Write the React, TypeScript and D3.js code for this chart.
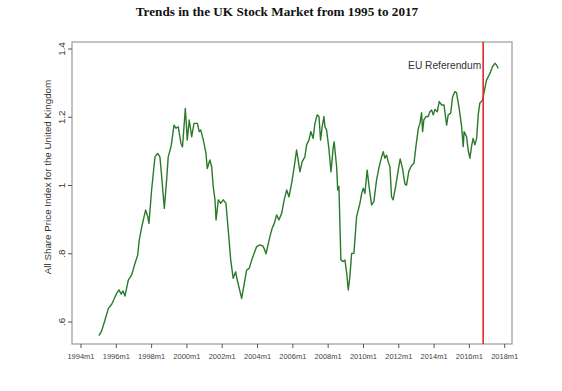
import React from "react";
import * as d3 from "d3";

const dates: number[] = [
  1995.02, 1995.17, 1995.36, 1995.55, 1995.74, 1995.93, 1996.02, 1996.15, 1996.27, 1996.38, 1996.49,
  1996.68, 1996.87, 1997.06, 1997.21, 1997.30, 1997.44, 1997.66, 1997.78, 1997.85, 1998.0,
  1998.19, 1998.34, 1998.47, 1998.57, 1998.72, 1998.85, 1998.94, 1999.1, 1999.27, 1999.38,
  1999.51, 1999.66, 1999.75, 1999.91, 2000.02, 2000.13, 2000.27, 2000.4, 2000.59, 2000.7,
  2000.78, 2000.93, 2001.08, 2001.15, 2001.3, 2001.4, 2001.49, 2001.59, 2001.65, 2001.78,
  2001.91, 2002.06, 2002.21, 2002.34, 2002.48, 2002.62, 2002.76, 2002.85, 2003.1, 2003.25,
  2003.38, 2003.53, 2003.67, 2003.95, 2004.14, 2004.3, 2004.4, 2004.48, 2004.7, 2004.83,
  2004.95, 2005.08, 2005.21, 2005.37, 2005.51, 2005.65, 2005.78, 2005.93, 2006.08, 2006.21,
  2006.3, 2006.4, 2006.53, 2006.68, 2006.78, 2006.91, 2007.02, 2007.15, 2007.25, 2007.38,
  2007.48, 2007.57, 2007.66, 2007.76, 2007.82, 2007.91, 2008.04, 2008.16, 2008.29, 2008.34,
  2008.48, 2008.54, 2008.61, 2008.72, 2008.85, 2008.95, 2009.05, 2009.14, 2009.23, 2009.33,
  2009.46, 2009.61, 2009.8, 2009.9, 2009.99, 2010.08, 2010.21, 2010.33, 2010.46, 2010.59,
  2010.74, 2010.89, 2011.03, 2011.12, 2011.21, 2011.31, 2011.4, 2011.5, 2011.59, 2011.68,
  2011.82, 2011.97, 2012.08, 2012.21, 2012.35, 2012.44, 2012.57, 2012.72, 2012.86, 2012.97,
  2013.11, 2013.2, 2013.29, 2013.35, 2013.42, 2013.54, 2013.67, 2013.76, 2013.86, 2013.95,
  2014.05, 2014.18, 2014.29, 2014.43, 2014.56, 2014.71, 2014.8, 2014.94, 2015.05, 2015.18,
  2015.27, 2015.42, 2015.56, 2015.65, 2015.7, 2015.84, 2015.93, 2016.03, 2016.12, 2016.21,
  2016.31, 2016.41, 2016.5, 2016.59, 2016.75, 2016.82, 2016.97, 2017.12, 2017.2, 2017.31,
  2017.44, 2017.54, 2017.63,
];

const shareIndex: number[] = [
  0.56, 0.574, 0.606, 0.64, 0.652, 0.674, 0.684, 0.694, 0.682, 0.691, 0.676,
  0.723, 0.738, 0.772, 0.796, 0.84, 0.879, 0.928, 0.909, 0.889, 0.987,
  1.084, 1.094, 1.084, 1.026, 0.933, 1.016, 1.084, 1.114, 1.177, 1.168,
  1.172, 1.124, 1.113, 1.226, 1.133, 1.192, 1.143, 1.182, 1.182, 1.158,
  1.163, 1.133, 1.094, 1.05, 1.075, 1.055, 0.997, 0.958, 0.899, 0.958,
  0.948, 0.958, 0.948, 0.87, 0.782, 0.728, 0.747, 0.723, 0.669, 0.713,
  0.752, 0.757, 0.782, 0.821, 0.826, 0.823, 0.812, 0.8, 0.85, 0.875,
  0.889, 0.914, 0.899, 0.919, 0.958, 0.987, 0.967, 1.006, 1.055, 1.104,
  1.075, 1.04, 1.07, 1.084, 1.119, 1.133, 1.158, 1.138, 1.182, 1.207,
  1.202, 1.133, 1.172, 1.202, 1.172, 1.163, 1.109, 1.04, 1.114, 1.128,
  1.055, 0.987, 0.997, 0.782, 0.777, 0.782, 0.743, 0.694, 0.733, 0.801,
  0.801, 0.909, 0.948, 0.977, 0.992, 0.977, 1.045, 0.992, 0.943, 0.953,
  1.016, 1.055, 1.084, 1.099, 1.08, 1.089, 1.07, 1.055, 0.967, 0.958,
  0.997, 1.045, 1.078, 1.05, 1.004, 1.001, 1.042, 1.058, 1.065, 1.114,
  1.168, 1.182, 1.213, 1.158, 1.192, 1.202, 1.202, 1.216, 1.221, 1.207,
  1.223, 1.216, 1.246, 1.236, 1.236, 1.177, 1.207, 1.212, 1.26, 1.275,
  1.272, 1.226, 1.172, 1.114, 1.158, 1.143, 1.104, 1.08, 1.114, 1.138,
  1.119, 1.138, 1.207, 1.241, 1.251, 1.27, 1.309, 1.324, 1.333, 1.348,
  1.358, 1.353, 1.343,
];

const yTicks: number[] = [0.6, 0.8, 1, 1.2, 1.4];
const yTickLabels: string[] = [".6", ".8", "1", "1.2", "1.4"];
const xTicks: number[] = [1994, 1996, 1998, 2000, 2002, 2004, 2006, 2008, 2010, 2012, 2014, 2016, 2018];
const xTickLabels: string[] = xTicks.map((y) => `${y}m1`);
const referendumDate = 2016.78;
const referendumLabel = "EU Referendum";
const title = "Trends in the UK Stock Market from 1995 to 2017";
const yTitle = "All Share Price Index for the United Kingdom";

export default function App() {
  const W = 562;
  const H = 391;
  const box = { left: 72, right: 512, top: 42, bottom: 344 };
  const x = d3.scaleLinear().domain([1994, 2018]).range([81, 504.7]);
  const y = d3.scaleLinear().domain([0.6, 1.4]).range([322, 49]);
  const pts: [number, number][] = dates.map((d, i) => [d, shareIndex[i]]);
  const line = d3
    .line<[number, number]>()
    .x((d) => x(d[0]))
    .y((d) => y(d[1]))
    .curve(d3.curveLinear);
  const sans = "'Liberation Sans', Arial, sans-serif";
  const rx = x(referendumDate);
  return (
    <svg
      width={W}
      height={H}
      style={{ position: "absolute", left: 0, top: 0, background: "#fff" }}
    >
      <rect x={0} y={0} width={W} height={H} fill="#fff" />
      <text
        x={277}
        y={16}
        textAnchor="middle"
        fontFamily="'Liberation Serif', 'Times New Roman', serif"
        fontWeight="bold"
        fontSize={13.2}
        fill="#111"
      >
        {title}
      </text>
      <rect
        x={box.left}
        y={box.top}
        width={box.right - box.left}
        height={box.bottom - box.top}
        fill="none"
        stroke="#9a9a9a"
        strokeWidth={1.2}
      />
      {yTicks.map((t, i) => (
        <g key={"y" + i}>
          <line x1={box.left - 4} x2={box.left} y1={y(t)} y2={y(t)} stroke="#555" strokeWidth={1} />
          <text
            transform={`translate(${box.left - 7},${y(t)}) rotate(-90)`}
            textAnchor="middle"
            fontFamily={sans}
            fontSize={9.8}
            fill="#333"
          >
            {yTickLabels[i]}
          </text>
        </g>
      ))}
      {xTicks.map((t, i) => (
        <g key={"x" + i}>
          <line x1={x(t)} x2={x(t)} y1={box.bottom} y2={box.bottom + 4} stroke="#555" strokeWidth={1} />
          <text
            x={x(t)}
            y={box.bottom + 15}
            textAnchor="middle"
            fontFamily={sans}
            fontSize={7.5}
            fill="#444"
          >
            {xTickLabels[i]}
          </text>
        </g>
      ))}
      <text
        transform={`translate(51,177) rotate(-90)`}
        textAnchor="middle"
        fontFamily={sans}
        fontSize={9.8}
        fill="#333"
      >
        {yTitle}
      </text>
      <path d={line(pts) || ""} fill="none" stroke="#2b7a2b" strokeWidth={1.4} strokeLinejoin="round" />
      <line x1={rx} x2={rx} y1={box.top} y2={box.bottom} stroke="#e8232b" strokeWidth={1.6} />
      <text
        x={rx - 2}
        y={69}
        textAnchor="end"
        fontFamily={sans}
        fontSize={10.2}
        fill="#333"
      >
        {referendumLabel}
      </text>
    </svg>
  );
}
